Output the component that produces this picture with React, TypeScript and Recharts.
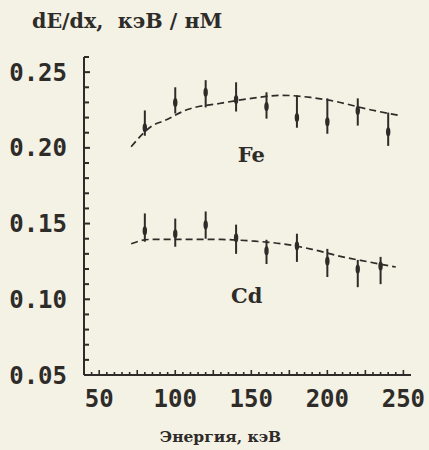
import React from 'react';
import { ComposedChart, XAxis, YAxis, Line, Scatter, ErrorBar, ReferenceDot } from 'recharts';

// Fe measurements (energy in keV, dE/dx in keV/nm)
const feEnergy = [80, 100, 120, 140, 160, 180, 200, 220, 240];
const feValue = [0.2133, 0.23, 0.2367, 0.232, 0.2273, 0.22, 0.2173, 0.2247, 0.2107];
const feTop = [0.2247, 0.24, 0.2447, 0.2433, 0.2367, 0.2347, 0.2327, 0.2327, 0.2233];
const feBottom = [0.208, 0.2227, 0.2267, 0.224, 0.2193, 0.2133, 0.2093, 0.2147, 0.2013];

// Cd measurements
const cdEnergy = [80, 100, 120, 140, 160, 180, 200, 220, 235];
const cdValue = [0.1453, 0.1433, 0.1493, 0.1407, 0.132, 0.1353, 0.1253, 0.12, 0.122];
const cdTop = [0.1567, 0.1533, 0.158, 0.1493, 0.1393, 0.1433, 0.1333, 0.126, 0.128];
const cdBottom = [0.138, 0.1347, 0.14, 0.13, 0.1233, 0.1247, 0.1147, 0.108, 0.11];

// dashed fitted curves
const feFitEnergy = [71, 85, 93, 108, 129, 150, 170, 189, 202, 229, 248];
const feFitValue = [0.2007, 0.2147, 0.218, 0.2253, 0.2293, 0.2327, 0.2347, 0.2333, 0.2313, 0.225, 0.2213];
const cdFitEnergy = [71, 83, 110, 130, 150, 170, 190, 210, 227, 245];
const cdFitValue = [0.1367, 0.1395, 0.1395, 0.1395, 0.1385, 0.1367, 0.133, 0.128, 0.1247, 0.1213];

// axis ticks
const yMajorTicks = [0.05, 0.1, 0.15, 0.2, 0.25];
const yTickLabels = ['0.05', '0.10', '0.15', '0.20', '0.25'];
const yAllTicks = [0.05, 0.06, 0.07, 0.08, 0.09, 0.1, 0.11, 0.12, 0.13, 0.14, 0.15, 0.16, 0.17, 0.18, 0.19, 0.2, 0.21, 0.22, 0.23, 0.24, 0.25, 0.26];
const xMajorTicks = [50, 100, 150, 200, 250];
const xAllTicks = [45, 50, 55, 60, 65, 70, 75, 80, 85, 90, 95, 100, 105, 110, 115, 120, 125, 130, 135, 140, 145, 150, 155, 160, 165, 170, 175, 180, 185, 190, 195, 200, 205, 210, 215, 220, 225, 230, 235, 240, 245, 250];

const INK = '#2e2c29';
const BG = '#f4f1e5';

const feData = feEnergy.map((e, i) => ({ x: e, y: feValue[i], err: [feValue[i] - feBottom[i], feTop[i] - feValue[i]] }));
const cdData = cdEnergy.map((e, i) => ({ x: e, y: cdValue[i], err: [cdValue[i] - cdBottom[i], cdTop[i] - cdValue[i]] }));
const feFit = feFitEnergy.map((e, i) => ({ x: e, y: feFitValue[i] }));
const cdFit = cdFitEnergy.map((e, i) => ({ x: e, y: cdFitValue[i] }));

const monoFont = '"DejaVu Sans Mono", monospace';
const serifFont = '"DejaVu Serif", serif';

const YTick = (props: any) => {
  const { x, y, payload } = props;
  const v = payload.value;
  const idx = yMajorTicks.findIndex((m) => Math.abs(m - v) < 1e-6);
  const major = idx >= 0;
  return (
    <g>
      {Math.abs(v - 0.05) > 1e-6 && (
        <line x1={x} x2={x + (major ? 6 : 5)} y1={y} y2={y} stroke={INK} strokeWidth={2} />
      )}
      {major && (
        <text x={x - 17} y={y} dy={8.5} textAnchor="end" fontFamily={monoFont} fontWeight="bold" fontSize={24} fill={INK}>
          {yTickLabels[idx]}
        </text>
      )}
    </g>
  );
};

const XTick = (props: any) => {
  const { x, y, payload } = props;
  const v = payload.value;
  const major = xMajorTicks.includes(v);
  return (
    <g>
      <line x1={x} x2={x} y1={y} y2={y - (v % 25 === 0 ? 5 : 3)} stroke={INK} strokeWidth={1.6} />
      {major && (
        <text x={x} y={y} dy={32} textAnchor="middle" fontFamily={monoFont} fontWeight="bold" fontSize={24} fill={INK}>
          {String(v)}
        </text>
      )}
    </g>
  );
};

const Blob = (props: any) => {
  const { cx, cy } = props;
  if (cx == null || cy == null) return null;
  return <ellipse cx={cx} cy={cy} rx={2.2} ry={4.5} fill={INK} />;
};

export default function App() {
  return (
    <div style={{ position: 'absolute', left: 0, top: 0, width: 429, height: 450, background: BG, overflow: 'hidden' }}>
      <div style={{ position: 'absolute', left: 32, top: 8, fontFamily: serifFont, fontWeight: 'bold', fontSize: 20.6, color: INK, whiteSpace: 'pre', lineHeight: '26px' }}>
        {'dE/dx,  кэВ / нМ'}
      </div>
      <ComposedChart width={429} height={450} margin={{ top: 57, right: 18, bottom: 0, left: 0 }}>
        <XAxis
          type="number"
          dataKey="x"
          domain={[40, 255]}
          ticks={xAllTicks}
          interval={0}
          tickSize={0}
          tickMargin={0}
          tickLine={false}
          tick={<XTick />}
          height={75}
          stroke={INK}
          strokeWidth={2}
          allowDataOverflow
        />
        <YAxis
          type="number"
          dataKey="y"
          domain={[0.05, 0.26]}
          ticks={yAllTicks}
          interval={0}
          tickSize={0}
          tickMargin={0}
          tickLine={false}
          tick={<YTick />}
          width={84}
          stroke={INK}
          strokeWidth={2}
          allowDataOverflow
        />
        <Line data={feFit} dataKey="y" type="monotone" stroke={INK} strokeWidth={1.7} strokeDasharray="7 4" dot={false} isAnimationActive={false} />
        <Line data={cdFit} dataKey="y" type="monotone" stroke={INK} strokeWidth={1.7} strokeDasharray="7 4" dot={false} isAnimationActive={false} />
        <Scatter data={feData} dataKey="y" shape={<Blob />} isAnimationActive={false}>
          <ErrorBar dataKey="err" direction="y" width={0} stroke={INK} strokeWidth={2} isAnimationActive={false} />
        </Scatter>
        <Scatter data={cdData} dataKey="y" shape={<Blob />} isAnimationActive={false}>
          <ErrorBar dataKey="err" direction="y" width={0} stroke={INK} strokeWidth={2} isAnimationActive={false} />
        </Scatter>
        <ReferenceDot x={150} y={0.1953} r={0} stroke="none" fill="none"
          label={{ value: 'Fe', position: 'center', fontFamily: serifFont, fontWeight: 'bold', fontSize: 21, fill: INK }} />
        <ReferenceDot x={147} y={0.1027} r={0} stroke="none" fill="none"
          label={{ value: 'Cd', position: 'center', fontFamily: serifFont, fontWeight: 'bold', fontSize: 21, fill: INK }} />
      </ComposedChart>
      <div style={{ position: 'absolute', left: 0, width: 429, top: 426, textAlign: 'center', paddingLeft: 12, boxSizing: 'border-box', fontFamily: serifFont, fontWeight: 'bold', fontSize: 15.5, color: INK, lineHeight: '22px' }}>
        Энергия,  кэВ
      </div>
    </div>
  );
}
